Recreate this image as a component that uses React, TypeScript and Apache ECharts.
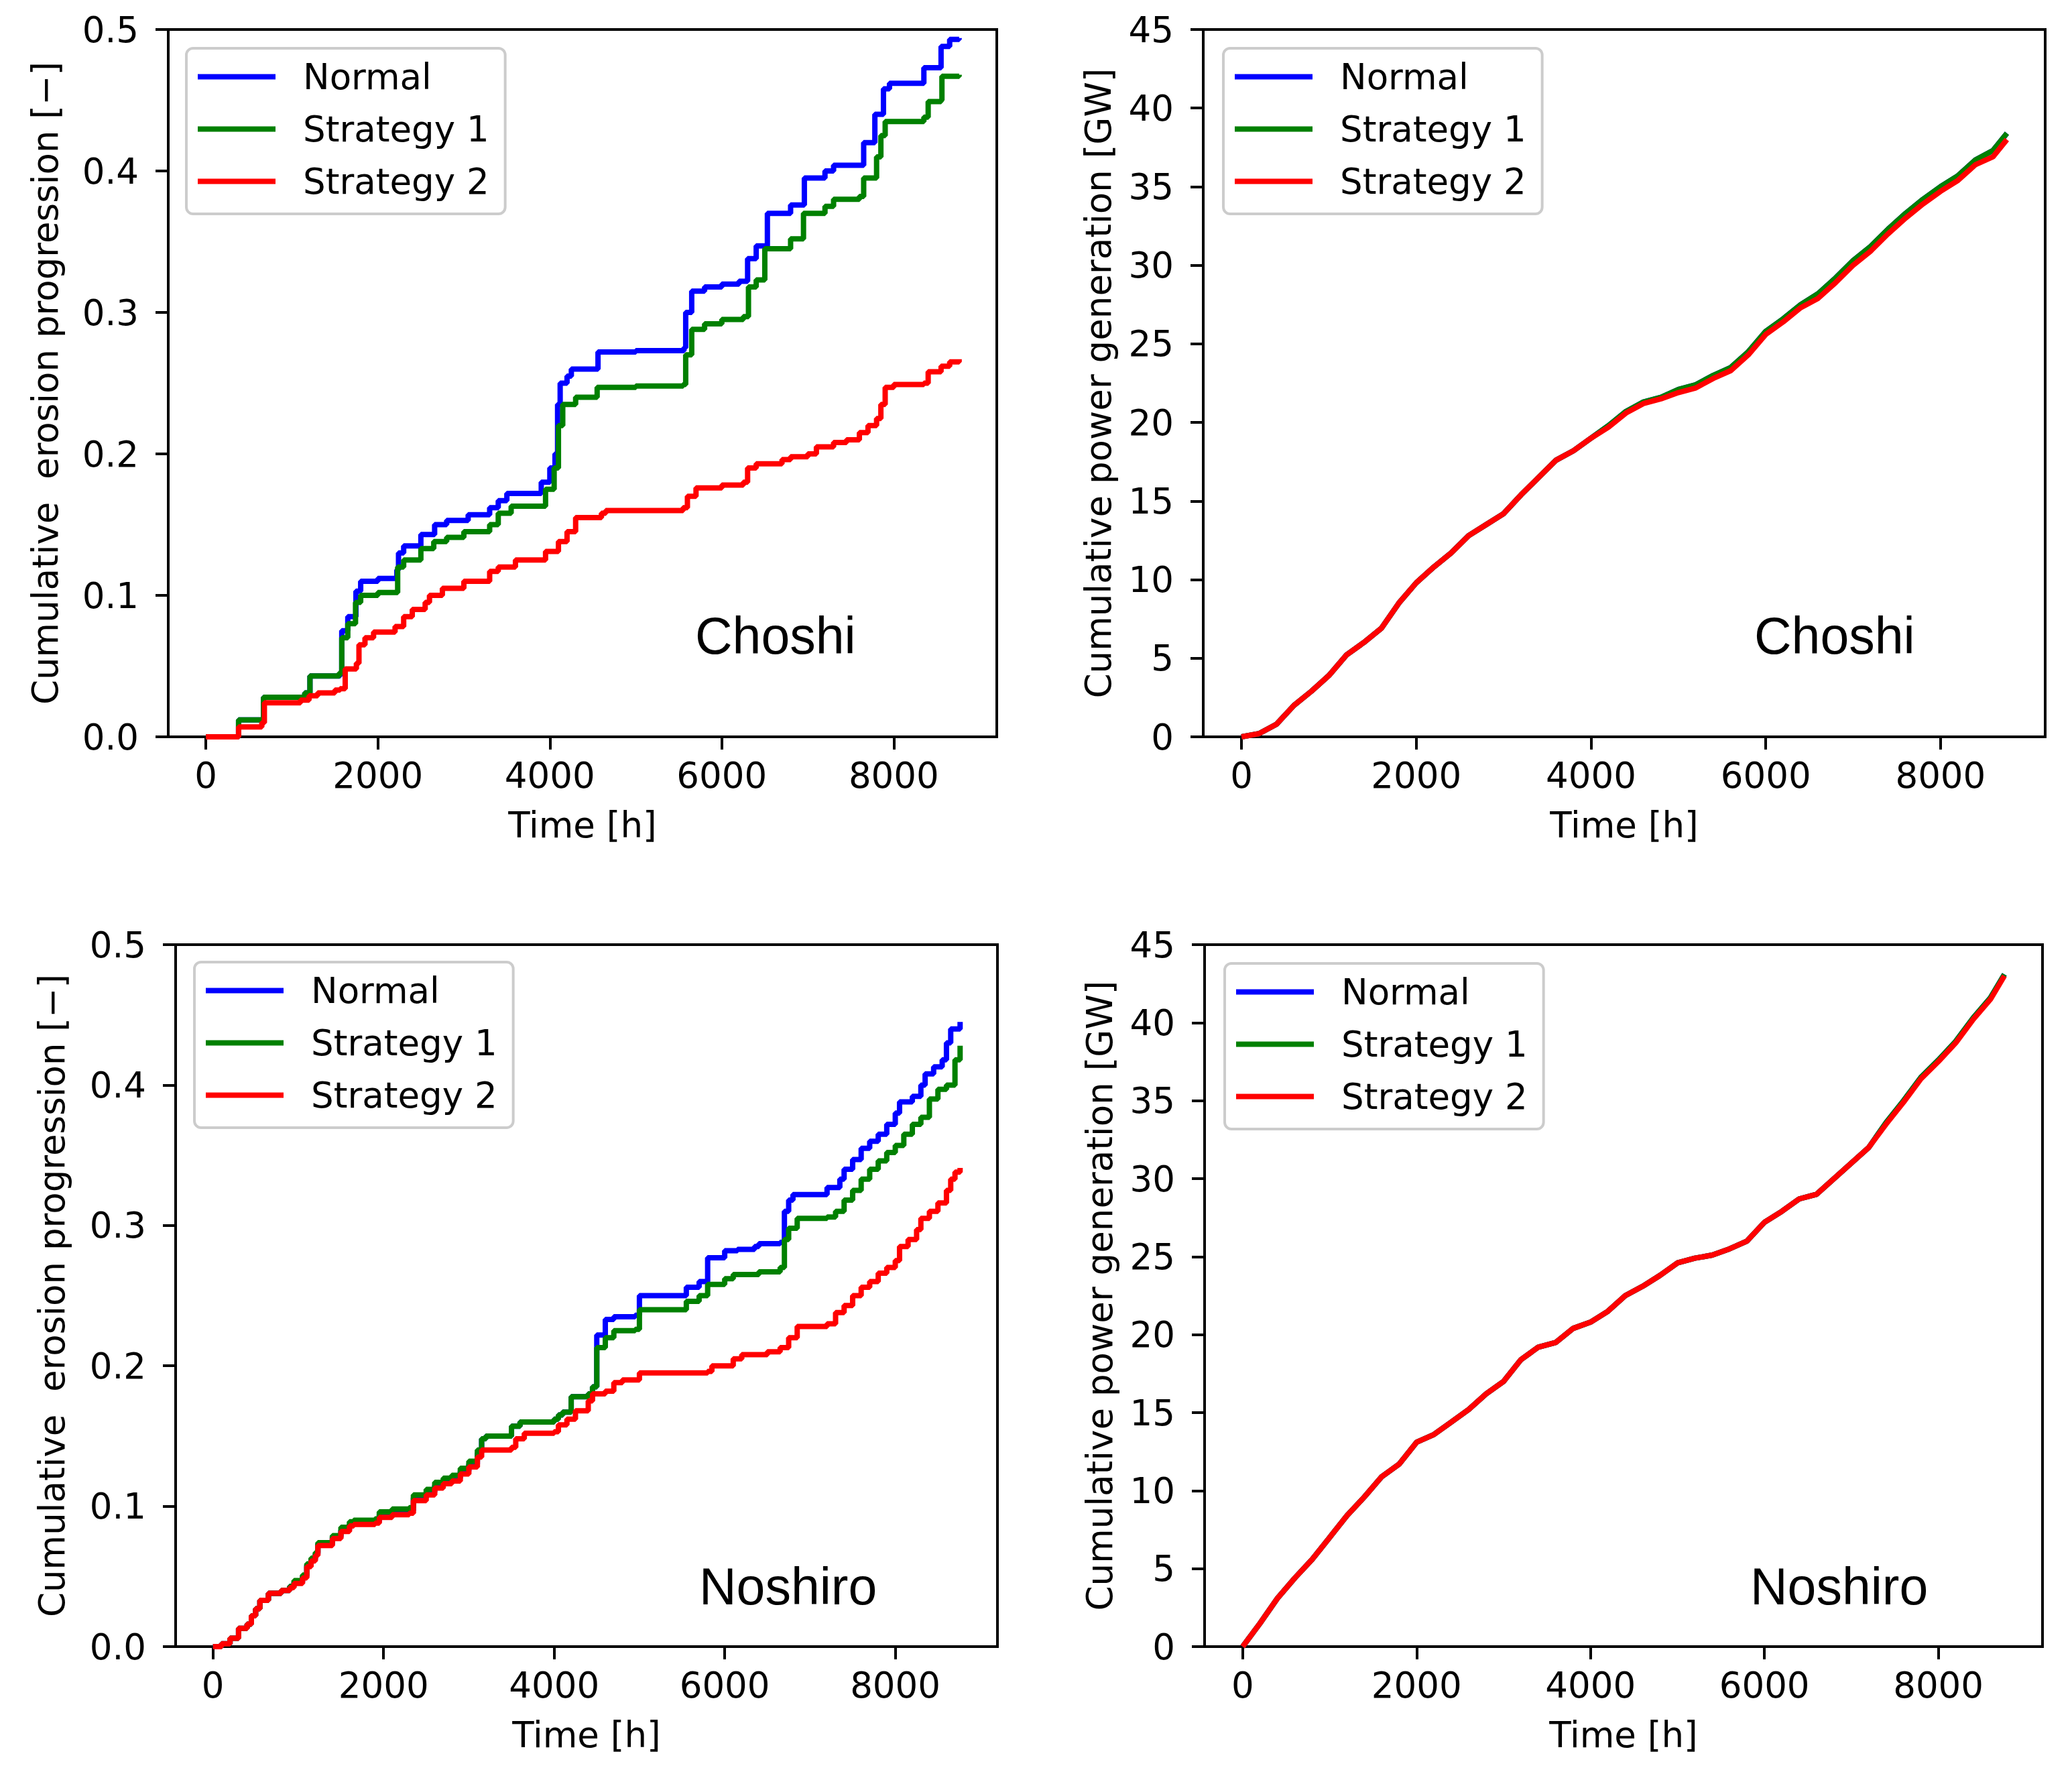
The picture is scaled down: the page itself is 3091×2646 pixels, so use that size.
import React, { useEffect, useRef } from "react";
import * as echarts from "echarts";

// ---------------- DATA ----------------
const seriesNames = ["Normal", "Strategy 1", "Strategy 2"];
const seriesColors = ["#0000ff", "#008000", "#ff0000"];
const xTickValues = [0, 2000, 4000, 6000, 8000];
const stationNames = ["Choshi", "Choshi", "Noshiro", "Noshiro"];
const erosionLabel = "Cumulative  erosion progression [\u2212]";
const powerLabel = "Cumulative power generation [GW]";
const timeLabel = "Time [h]";

// Choshi – cumulative erosion progression [-] (time [h], value), step-wise
const choshiErosionNormal: [number, number][] = [
  [0, 0], [380, 0.012], [670, 0.028], [1150, 0.031], [1210, 0.043], [1560, 0.045], [1580, 0.075],
  [1650, 0.085], [1745, 0.103], [1800, 0.11], [2000, 0.112], [2220, 0.118], [2240, 0.13], [2300, 0.135],
  [2500, 0.143], [2660, 0.15], [2800, 0.153], [3050, 0.157], [3300, 0.162], [3400, 0.167], [3500, 0.172],
  [3900, 0.18], [4000, 0.19], [4060, 0.2], [4090, 0.235], [4120, 0.25], [4200, 0.255], [4250, 0.26],
  [4560, 0.272], [5000, 0.273], [5560, 0.275], [5580, 0.3], [5650, 0.315], [5800, 0.318], [6000, 0.32],
  [6200, 0.322], [6300, 0.338], [6400, 0.347], [6530, 0.37], [6800, 0.376], [6960, 0.395], [7200, 0.4],
  [7300, 0.404], [7650, 0.42], [7780, 0.44], [7880, 0.458], [7950, 0.462], [8350, 0.473], [8550, 0.488],
  [8650, 0.493], [8760, 0.494],
];
const choshiErosionS1: [number, number][] = [
  [0, 0], [380, 0.012], [670, 0.028], [1150, 0.031], [1210, 0.043], [1550, 0.045], [1580, 0.07],
  [1650, 0.08], [1740, 0.095], [1800, 0.1], [2000, 0.102], [2230, 0.12], [2300, 0.125], [2500, 0.133],
  [2650, 0.138], [2800, 0.141], [3000, 0.145], [3300, 0.15], [3400, 0.158], [3550, 0.163], [3950, 0.175],
  [4050, 0.19], [4100, 0.22], [4150, 0.235], [4300, 0.24], [4550, 0.247], [5000, 0.248], [5550, 0.249],
  [5580, 0.27], [5650, 0.288], [5800, 0.292], [6000, 0.295], [6250, 0.297], [6310, 0.318], [6400, 0.323],
  [6500, 0.345], [6800, 0.352], [6950, 0.37], [7200, 0.375], [7300, 0.38], [7600, 0.382], [7650, 0.395],
  [7800, 0.41], [7850, 0.425], [7900, 0.435], [8350, 0.438], [8400, 0.449], [8550, 0.45], [8560, 0.467],
  [8760, 0.468],
];
const choshiErosionS2: [number, number][] = [
  [0, 0], [380, 0.007], [650, 0.01], [680, 0.024], [1100, 0.026], [1200, 0.029], [1300, 0.031],
  [1500, 0.033], [1560, 0.034], [1620, 0.048], [1750, 0.052], [1780, 0.065], [1850, 0.07], [1950, 0.074],
  [2200, 0.078], [2300, 0.085], [2400, 0.09], [2550, 0.095], [2600, 0.1], [2750, 0.105], [3000, 0.11],
  [3300, 0.117], [3400, 0.12], [3600, 0.125], [3950, 0.131], [4100, 0.138], [4200, 0.145], [4300, 0.155],
  [4600, 0.158], [4650, 0.16], [5000, 0.16], [5550, 0.162], [5600, 0.17], [5700, 0.176], [6000, 0.178],
  [6250, 0.18], [6300, 0.19], [6400, 0.193], [6700, 0.196], [6800, 0.198], [7000, 0.2], [7100, 0.205],
  [7300, 0.208], [7450, 0.21], [7600, 0.215], [7700, 0.22], [7800, 0.225], [7850, 0.235], [7900, 0.247],
  [8000, 0.249], [8350, 0.25], [8400, 0.258], [8550, 0.262], [8650, 0.265], [8760, 0.267],
];

// Noshiro – cumulative erosion progression [-]
const noshiroErosionNormal: [number, number][] = [
  [0, 0], [100, 0.002], [200, 0.006], [300, 0.013], [400, 0.016], [450, 0.022], [500, 0.027], [550, 0.033],
  [650, 0.038], [800, 0.04], [900, 0.043], [950, 0.046], [1050, 0.05], [1100, 0.058], [1150, 0.062],
  [1200, 0.066], [1230, 0.073], [1400, 0.078], [1500, 0.083], [1600, 0.087], [1650, 0.088], [1900, 0.089],
  [1950, 0.094], [2100, 0.096], [2300, 0.097], [2350, 0.106], [2500, 0.11], [2600, 0.115], [2700, 0.118],
  [2800, 0.12], [2900, 0.125], [3000, 0.13], [3100, 0.138], [3150, 0.148], [3200, 0.15], [3500, 0.157],
  [3600, 0.16], [4000, 0.162], [4050, 0.165], [4100, 0.167], [4200, 0.178], [4400, 0.18], [4450, 0.185],
  [4500, 0.222], [4600, 0.233], [4700, 0.235], [4950, 0.236], [5000, 0.25], [5500, 0.25], [5550, 0.256],
  [5700, 0.26], [5800, 0.277], [6000, 0.282], [6150, 0.283], [6350, 0.285], [6400, 0.287], [6650, 0.288],
  [6700, 0.31], [6750, 0.318], [6800, 0.322], [7100, 0.322], [7200, 0.327], [7350, 0.333], [7400, 0.34],
  [7500, 0.347], [7600, 0.355], [7700, 0.36], [7800, 0.365], [7900, 0.372], [8000, 0.38], [8050, 0.388],
  [8200, 0.392], [8300, 0.4], [8350, 0.408], [8450, 0.413], [8550, 0.418], [8600, 0.43], [8650, 0.44],
  [8760, 0.445],
];
const noshiroErosionS1: [number, number][] = [
  [0, 0], [100, 0.002], [200, 0.006], [300, 0.013], [400, 0.016], [450, 0.022], [500, 0.027], [550, 0.033],
  [650, 0.038], [800, 0.04], [900, 0.043], [950, 0.047], [1050, 0.051], [1100, 0.059], [1150, 0.063],
  [1200, 0.067], [1230, 0.074], [1400, 0.079], [1500, 0.085], [1600, 0.089], [1650, 0.09], [1900, 0.091],
  [1950, 0.096], [2100, 0.098], [2300, 0.099], [2350, 0.108], [2500, 0.112], [2600, 0.117], [2700, 0.12],
  [2800, 0.122], [2900, 0.127], [3000, 0.132], [3100, 0.14], [3150, 0.148], [3200, 0.15], [3500, 0.157],
  [3600, 0.16], [4000, 0.162], [4050, 0.165], [4100, 0.167], [4200, 0.178], [4400, 0.18], [4450, 0.185],
  [4500, 0.213], [4600, 0.22], [4700, 0.225], [4950, 0.226], [5000, 0.24], [5500, 0.24], [5550, 0.246],
  [5700, 0.25], [5800, 0.258], [6000, 0.262], [6100, 0.265], [6400, 0.267], [6650, 0.27], [6700, 0.29],
  [6750, 0.298], [6850, 0.305], [7200, 0.306], [7300, 0.31], [7400, 0.318], [7500, 0.325], [7600, 0.333],
  [7700, 0.34], [7800, 0.346], [7900, 0.352], [8000, 0.357], [8100, 0.365], [8200, 0.372], [8300, 0.377],
  [8400, 0.39], [8500, 0.397], [8600, 0.4], [8700, 0.418], [8760, 0.428],
];
const noshiroErosionS2: [number, number][] = [
  [0, 0], [100, 0.002], [200, 0.006], [300, 0.013], [400, 0.016], [450, 0.022], [500, 0.027], [550, 0.033],
  [650, 0.038], [800, 0.04], [900, 0.042], [950, 0.045], [1050, 0.049], [1100, 0.057], [1150, 0.061],
  [1200, 0.065], [1230, 0.072], [1400, 0.077], [1500, 0.082], [1600, 0.086], [1650, 0.087], [1900, 0.088],
  [1950, 0.092], [2100, 0.094], [2300, 0.095], [2350, 0.104], [2500, 0.108], [2600, 0.113], [2700, 0.116],
  [2800, 0.118], [2900, 0.123], [3000, 0.128], [3100, 0.135], [3150, 0.14], [3500, 0.142], [3550, 0.148],
  [3650, 0.152], [4000, 0.153], [4050, 0.158], [4150, 0.162], [4250, 0.168], [4400, 0.175], [4450, 0.18],
  [4600, 0.182], [4700, 0.188], [4800, 0.19], [5000, 0.195], [5800, 0.196], [5850, 0.2], [6100, 0.205],
  [6200, 0.208], [6500, 0.21], [6650, 0.213], [6750, 0.22], [6850, 0.228], [7200, 0.23], [7300, 0.238],
  [7400, 0.243], [7500, 0.25], [7600, 0.256], [7700, 0.26], [7800, 0.266], [7900, 0.27], [8000, 0.275],
  [8050, 0.285], [8150, 0.29], [8250, 0.297], [8300, 0.305], [8400, 0.31], [8500, 0.316], [8600, 0.325],
  [8650, 0.333], [8700, 0.338], [8760, 0.341],
];

// Cumulative power generation [GW], sampled every 200 h
const powerHours = [
  0, 200, 400, 600, 800, 1000, 1200, 1400, 1600, 1800, 2000, 2200, 2400, 2600, 2800, 3000, 3200, 3400,
  3600, 3800, 4000, 4200, 4400, 4600, 4800, 5000, 5200, 5400, 5600, 5800, 6000, 6200, 6400, 6600, 6800,
  7000, 7200, 7400, 7600, 7800, 8000, 8200, 8400, 8600, 8760,
];
const choshiPowerNormal = [
  0, 0.2, 0.8, 2.0, 2.9, 3.9, 5.2, 6.0, 6.9, 8.5, 9.8, 10.8, 11.7, 12.8, 13.5, 14.2, 15.4, 16.5, 17.6,
  18.2, 19.0, 19.8, 20.7, 21.3, 21.6, 22.1, 22.4, 23.0, 23.5, 24.5, 25.8, 26.6, 27.5, 28.2, 29.2, 30.3,
  31.2, 32.3, 33.3, 34.2, 35.0, 35.7, 36.7, 37.3, 38.4,
];
const choshiPowerS1 = [
  0, 0.2, 0.8, 2.0, 2.9, 3.9, 5.2, 6.0, 6.9, 8.5, 9.8, 10.8, 11.7, 12.8, 13.5, 14.2, 15.4, 16.5, 17.6,
  18.2, 19.0, 19.8, 20.7, 21.3, 21.6, 22.1, 22.4, 23.0, 23.5, 24.5, 25.8, 26.6, 27.5, 28.2, 29.2, 30.3,
  31.2, 32.3, 33.3, 34.2, 35.0, 35.7, 36.7, 37.3, 38.4,
];
const choshiPowerS2 = [
  0, 0.2, 0.8, 2.0, 2.9, 3.9, 5.2, 6.0, 6.9, 8.5, 9.8, 10.8, 11.7, 12.8, 13.5, 14.2, 15.4, 16.5, 17.6,
  18.2, 19.0, 19.7, 20.6, 21.2, 21.5, 21.9, 22.2, 22.8, 23.3, 24.3, 25.6, 26.4, 27.3, 27.9, 28.9, 30.0,
  30.9, 32.0, 33.0, 33.9, 34.7, 35.4, 36.4, 36.9, 38.0,
];
const noshiroPowerNormal = [
  0, 1.5, 3.1, 4.4, 5.6, 7.0, 8.4, 9.6, 10.9, 11.7, 13.1, 13.6, 14.4, 15.2, 16.2, 17.0, 18.4, 19.2, 19.5,
  20.4, 20.8, 21.5, 22.5, 23.1, 23.8, 24.6, 24.9, 25.1, 25.5, 26.0, 27.2, 27.9, 28.7, 29.0, 30.0, 31.0,
  32.0, 33.6, 35.0, 36.5, 37.6, 38.8, 40.3, 41.6, 43.1,
];
const noshiroPowerS1 = [
  0, 1.5, 3.1, 4.4, 5.6, 7.0, 8.4, 9.6, 10.9, 11.7, 13.1, 13.6, 14.4, 15.2, 16.2, 17.0, 18.4, 19.2, 19.5,
  20.4, 20.8, 21.5, 22.5, 23.1, 23.8, 24.6, 24.9, 25.1, 25.5, 26.0, 27.2, 27.9, 28.7, 29.0, 30.0, 31.0,
  32.0, 33.6, 35.0, 36.5, 37.6, 38.8, 40.3, 41.6, 43.1,
];
const noshiroPowerS2 = [
  0, 1.5, 3.1, 4.4, 5.6, 7.0, 8.4, 9.6, 10.9, 11.7, 13.1, 13.6, 14.4, 15.2, 16.2, 17.0, 18.4, 19.2, 19.5,
  20.4, 20.8, 21.5, 22.5, 23.1, 23.8, 24.6, 24.9, 25.1, 25.5, 26.0, 27.2, 27.9, 28.7, 29.0, 30.0, 31.0,
  32.0, 33.5, 34.9, 36.4, 37.5, 38.7, 40.2, 41.5, 43.0,
];

// ---------------- LAYOUT ----------------
const W = 3091;
const H = 2646;
const FONT = "DejaVu Sans";
const FS = 53;

const panels = [
  { left: 251, top: 44, width: 1236, height: 1055, yGap: 157, legend: { left: 278, top: 72 }, station: { x: 1037, y: 948 } },
  { left: 1795, top: 44, width: 1256, height: 1055, yGap: 130, legend: { left: 1825, top: 72 }, station: { x: 2617, y: 948 } },
  { left: 262, top: 1409, width: 1226, height: 1047, yGap: 158, legend: { left: 290, top: 1435 }, station: { x: 1043, y: 2366 } },
  { left: 1797, top: 1409, width: 1250, height: 1047, yGap: 130, legend: { left: 1827, top: 1437 }, station: { x: 2611, y: 2366 } },
];

function pairs(xs: number[], ys: number[]): [number, number][] {
  return xs.map((x, i) => [x, ys[i]]);
}

export default function App() {
  const ref = useRef<HTMLDivElement>(null);

  useEffect(() => {
    document.body.style.margin = "0";
    if (!ref.current) return;
    const chart = echarts.init(ref.current, null, { renderer: "svg", width: W, height: H });

    const panelData: { data: [number, number][][]; step: boolean; erosion: boolean }[] = [
      { data: [choshiErosionNormal, choshiErosionS1, choshiErosionS2], step: true, erosion: true },
      {
        data: [pairs(powerHours, choshiPowerNormal), pairs(powerHours, choshiPowerS1), pairs(powerHours, choshiPowerS2)],
        step: false,
        erosion: false,
      },
      { data: [noshiroErosionNormal, noshiroErosionS1, noshiroErosionS2], step: true, erosion: true },
      {
        data: [pairs(powerHours, noshiroPowerNormal), pairs(powerHours, noshiroPowerS1), pairs(powerHours, noshiroPowerS2)],
        step: false,
        erosion: false,
      },
    ];

    const tickStyle = { show: true, inside: false, length: 19, lineStyle: { color: "#000", width: 4 } };
    const labelStyle = { color: "#000", fontFamily: FONT, fontSize: FS };

    const grid = panels.map((p) => ({
      left: p.left,
      top: p.top,
      width: p.width,
      height: p.height,
      show: true,
      borderColor: "#000",
      borderWidth: 4,
      backgroundColor: "transparent",
      containLabel: false,
    }));

    const xAxis = panels.map((p, i) => ({
      type: "value",
      gridIndex: i,
      min: -438,
      max: 9198,
      position: "bottom",
      splitLine: { show: false },
      axisLine: { show: false, onZero: false },
      axisTick: { ...tickStyle, customValues: xTickValues },
      axisLabel: { ...labelStyle, margin: 31, customValues: xTickValues, formatter: (v: number) => String(v) },
      name: timeLabel,
      nameLocation: "middle",
      nameGap: 105,
      nameTextStyle: { ...labelStyle },
    }));

    const yAxis = panels.map((p, i) => {
      const ero = panelData[i].erosion;
      return {
        type: "value",
        gridIndex: i,
        min: 0,
        max: ero ? 0.5 : 45,
        interval: ero ? 0.1 : 5,
        position: "left",
        splitLine: { show: false },
        axisLine: { show: false, onZero: false },
        axisTick: tickStyle,
        axisLabel: {
          ...labelStyle,
          margin: 44,
          formatter: (v: number) => (ero ? v.toFixed(1) : String(Math.round(v))),
        },
        name: ero ? erosionLabel : powerLabel,
        nameLocation: "middle",
        nameGap: p.yGap,
        nameTextStyle: { ...labelStyle },
      };
    });

    const series: any[] = [];
    panelData.forEach((pd, i) => {
      pd.data.forEach((d, k) => {
        series.push({
          type: "line",
          name: seriesNames[k],
          xAxisIndex: i,
          yAxisIndex: i,
          data: d,
          step: pd.step ? "end" : false,
          symbol: "none",
          showSymbol: false,
          smooth: false,
          lineStyle: { color: seriesColors[k], width: 8 },
          itemStyle: { color: seriesColors[k] },
          z: 2 + k,
        });
      });
    });

    const legend = panels.map((p) => ({
      data: seriesNames.map((n, k) => ({ name: n, icon: "rect", itemStyle: { color: seriesColors[k] } })),
      orient: "vertical",
      left: p.legend.left,
      top: p.legend.top,
      itemWidth: 116,
      itemHeight: 8,
      itemGap: 25,
      padding: [16, 24, 22, 17],
      borderColor: "#cccccc",
      borderWidth: 4,
      borderRadius: 10,
      backgroundColor: "rgba(255,255,255,0.8)",
      selectedMode: false,
      textStyle: { color: "#000", fontFamily: FONT, fontSize: FS, padding: [0, 0, 0, 36] },
    }));

    const graphic = panels.map((p, i) => ({
      type: "text",
      x: p.station.x,
      y: p.station.y,
      z: 100,
      style: {
        text: stationNames[i],
        fill: "#000",
        font: `77px "Liberation Sans"`,
        fontFamily: "Liberation Sans",
        fontSize: 77,
        align: "left",
        verticalAlign: "middle",
      },
    }));

    chart.setOption({
      animation: false,
      backgroundColor: "#ffffff",
      grid,
      xAxis,
      yAxis,
      series,
      legend,
      graphic,
    } as any);

    return () => chart.dispose();
  }, []);

  return <div ref={ref} style={{ width: W, height: H }} />;
}
